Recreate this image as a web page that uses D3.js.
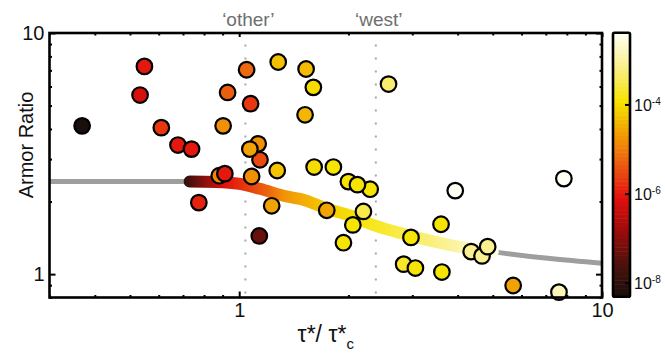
<!DOCTYPE html>
<html lang="en">
<head>
<meta charset="UTF-8">
<title>Armor Ratio</title>
<style>
* { margin: 0; padding: 0; box-sizing: border-box; }
body { background: #fff; width: 665px; height: 354px; overflow: hidden; font-family: "Liberation Sans", Arial, sans-serif; }
svg { display: block; }
.tick text { font-size: 20px; fill: #111; }
.lbl { fill: #111; }
.region { fill: #6e6e6e; font-size: 19px; }
</style>
</head>
<body>
<div id="chart"></div>
<script src="https://cdn.jsdelivr.net/npm/d3@7"></script>
<script>
// scatter data: tau*/tau*c, armor ratio, log10 of colour variable
var PT_X = [0.369, 0.548, 0.533, 0.610, 0.678, 0.739, 0.903, 0.929, 1.048, 1.075,
            1.281, 1.529, 1.601, 1.519, 1.141, 1.128, 1.070, 1.273, 0.881, 0.913,
            1.082, 0.774, 1.609, 1.818, 2.000, 2.296, 2.118, 1.229, 1.136, 1.743,
            2.200, 2.057, 1.938, 2.58, 2.975, 3.60, 2.84, 3.06, 3.62, 3.94,
            7.85, 4.36, 4.67, 4.84, 5.69, 7.61];
var PT_Y = [4.12, 7.27, 5.53, 4.05, 3.43, 3.30, 4.12, 5.67, 7.04, 5.09,
            7.58, 7.09, 5.95, 4.58, 2.98, 3.47, 3.30, 2.69, 2.56, 2.61,
            2.54, 1.98, 2.78, 2.78, 2.42, 2.25, 2.35, 1.92, 1.44, 1.84,
            1.82, 1.60, 1.35, 6.14, 1.42, 1.61, 1.10, 1.06, 1.02, 2.22,
            2.49, 1.24, 1.19, 1.30, 0.897, 0.842];
var PT_C = [-8.3, -6.0, -6.2, -5.7, -6.0, -6.0, -4.8, -5.3, -5.2, -5.7,
            -4.3, -4.35, -4.0, -4.4, -5.5, -4.8, -4.6, -4.25, -4.9, -6.0,
            -4.8, -5.9, -4.0, -3.9, -3.9, -3.9, -3.9, -4.6, -7.3, -4.6,
            -3.5, -3.9, -3.9, -3.3, -3.9, -3.9, -3.7, -3.9, -3.9, -2.38,
            -2.38, -3.1, -3.1, -3.1, -4.6, -2.8];

// fitted trend curve
var CURVE_X = [0.3, 0.73, 0.86, 1.0, 1.14, 1.35, 1.47, 1.78, 2.02, 2.37, 2.78, 3.82, 5.0, 7.2, 10];
var CURVE_Y = [2.42, 2.42, 2.41, 2.37, 2.26, 2.10, 2.05, 1.85, 1.75, 1.59, 1.48, 1.32, 1.24, 1.16, 1.11];
var BAND_RANGE = [0.73, 5.0];

var X_MAJOR = [1, 10];
var X_MINOR = [0.3, 0.4, 0.5, 0.6, 0.7, 0.8, 0.9, 2, 3, 4, 5, 6, 7, 8, 9];
var Y_MAJOR = [1, 10];
var Y_MINOR = [0.8, 0.9, 2, 3, 4, 5, 6, 7, 8, 9];
var C_TICKS = [-4, -6, -8];
var REF_LINES = [1.04, 2.38];
var REF_LABELS = ["\u2018other\u2019", "\u2018west\u2019"];

var W = 665, H = 354;
var L = 49.5, R = 602, T = 33, B = 297.5;

var svg = d3.select("#chart").append("svg").attr("width", W).attr("height", H);

var x = d3.scaleLog().domain([0.3, 10]).range([L, R]);
var y = d3.scaleLog().domain([0.8, 10]).range([B, T]);
var cbar = d3.scaleLinear().domain([-8.3, -2.38]).range([296.7, 32.7]);

// colormap, close to matlab "hot"
var cmap = d3.scaleLinear()
	.domain([0, 0.12, 0.25, 0.375, 0.5, 0.62, 0.74, 0.87, 1])
	.range(["#1a0f0c", "#4a120c", "#9a0c0a", "#e3100e", "#ec5a10", "#f2a004", "#f6e400", "#faef8a", "#fffff4"])
	.clamp(true);
function colorOf(c) { return cmap((c + 8.3) / 5.92); }

var defs = svg.append("defs");

// gradient along the coloured part of the trend curve
var grad = defs.append("linearGradient")
	.attr("id", "band")
	.attr("gradientUnits", "userSpaceOnUse")
	.attr("x1", x(BAND_RANGE[0]) - 6).attr("x2", x(BAND_RANGE[1]) + 6)
	.attr("y1", 0).attr("y2", 0);
var bandF = [0, 0.13, 0.27, 0.32, 0.46, 0.56, 0.86, 1];
var bandT = [0.05, 0.37, 0.52, 0.6, 0.7, 0.75, 0.9, 0.99];
bandF.forEach(function(f, i) {
	grad.append("stop").attr("offset", f).attr("stop-color", cmap(bandT[i]));
});

defs.append("clipPath").attr("id", "plotclip")
	.append("rect").attr("x", L).attr("y", T).attr("width", R - L).attr("height", B - T);

// dotted reference lines
svg.append("g").selectAll("line").data(REF_LINES).join("line")
	.attr("x1", function(d) { return x(d); })
	.attr("x2", function(d) { return x(d); })
	.attr("y1", B - 4).attr("y2", T + 4)
	.attr("stroke", "#a8a8a8")
	.attr("stroke-width", 2)
	.attr("stroke-dasharray", "2,11");

svg.append("g").selectAll("text").data(REF_LINES).join("text")
	.attr("class", "region")
	.attr("x", function(d) { return x(d) + 3; })
	.attr("y", 26)
	.attr("text-anchor", "middle")
	.text(function(d, i) { return REF_LABELS[i]; });

// trend curve
var curvePts = CURVE_X.map(function(v, i) { return [v, CURVE_Y[i]]; });
var line = d3.line()
	.x(function(d) { return x(d[0]); })
	.y(function(d) { return y(d[1]); })
	.curve(d3.curveMonotoneX);

var gc = svg.append("g").attr("clip-path", "url(#plotclip)");
gc.append("path")
	.attr("d", line(curvePts))
	.attr("fill", "none")
	.attr("stroke", "#9e9e9e")
	.attr("stroke-width", 5);

var bandPts = curvePts.filter(function(d) { return d[0] >= BAND_RANGE[0] && d[0] <= BAND_RANGE[1]; });
gc.append("path")
	.attr("d", line(bandPts))
	.attr("fill", "none")
	.attr("stroke", "url(#band)")
	.attr("stroke-width", 12)
	.attr("stroke-linecap", "round");

// scatter
var pts = PT_X.map(function(v, i) { return { x: v, y: PT_Y[i], c: PT_C[i] }; });
svg.append("g").selectAll("circle").data(pts).join("circle")
	.attr("cx", function(d) { return x(d.x); })
	.attr("cy", function(d) { return y(d.y); })
	.attr("r", 7.8)
	.attr("fill", function(d) { return colorOf(d.c); })
	.attr("stroke", "#000")
	.attr("stroke-width", 2.2);

// axes, ticks pointing inwards on all four sides
function addAxis(axis, tx, ty, labelled) {
	var g = svg.append("g").attr("transform", "translate(" + tx + "," + ty + ")").call(axis);
	g.select(".domain").remove();
	g.selectAll(".tick line").attr("stroke", "#000").attr("stroke-width", 2);
	if (!labelled) g.selectAll(".tick text").remove();
	return g;
}
var fmt = d3.format("d");
addAxis(d3.axisBottom(x).tickValues(X_MAJOR).tickSize(-6).tickPadding(5).tickFormat(fmt), 0, B, true);
addAxis(d3.axisBottom(x).tickValues(X_MINOR).tickSize(-2.5), 0, B, false);
addAxis(d3.axisTop(x).tickValues(X_MAJOR).tickSize(-4), 0, T, false);
addAxis(d3.axisTop(x).tickValues(X_MINOR).tickSize(-2.5), 0, T, false);
addAxis(d3.axisLeft(y).tickValues(Y_MAJOR).tickSize(-6).tickPadding(5).tickFormat(fmt), L, 0, true);
addAxis(d3.axisLeft(y).tickValues(Y_MINOR).tickSize(-2.5), L, 0, false);
addAxis(d3.axisRight(y).tickValues(Y_MAJOR).tickSize(-6), R, 0, false);
addAxis(d3.axisRight(y).tickValues(Y_MINOR).tickSize(-2.5), R, 0, false);

svg.append("rect")
	.attr("x", L).attr("y", T).attr("width", R - L).attr("height", B - T)
	.attr("fill", "none").attr("stroke", "#000").attr("stroke-width", 2.6);

// axis titles
svg.append("text").attr("class", "lbl")
	.attr("transform", "translate(33,145) rotate(-90)")
	.attr("text-anchor", "middle")
	.attr("font-size", 20)
	.text("Armor Ratio");

var xt = svg.append("text").attr("class", "lbl")
	.attr("x", (L + R) / 2).attr("y", 342)
	.attr("text-anchor", "middle")
	.attr("font-size", 23);
xt.append("tspan").text("\u03c4*/ \u03c4*");
xt.append("tspan").attr("font-size", 15).attr("dy", 7).text("c");

// colorbar, 64 discrete levels like the original
var CB_X = 613, CB_W = 17;
var levels = d3.range(64);
var cStep = 5.92 / 64;
svg.append("g").selectAll("rect").data(levels).join("rect")
	.attr("x", CB_X)
	.attr("y", function(i) { return cbar(-8.3 + (i + 1) * cStep); })
	.attr("width", CB_W)
	.attr("height", function(i) { return cbar(-8.3 + i * cStep) - cbar(-8.3 + (i + 1) * cStep) + 0.5; })
	.attr("fill", function(i) { return colorOf(-8.3 + (i + 0.5) * cStep); });

svg.append("rect")
	.attr("x", CB_X).attr("y", cbar(-2.38)).attr("width", CB_W).attr("height", cbar(-8.3) - cbar(-2.38))
	.attr("rx", 1.5)
	.attr("fill", "none").attr("stroke", "#000").attr("stroke-width", 2.6);

var ct = svg.append("g").selectAll("g").data(C_TICKS).join("g")
	.attr("transform", function(d) { return "translate(0," + cbar(d) + ")"; });
ct.append("line")
	.attr("x1", CB_X + CB_W - 5).attr("x2", CB_X + CB_W)
	.attr("stroke", "#000").attr("stroke-width", 2);
var ctText = ct.append("text").attr("class", "lbl")
	.attr("x", CB_X + CB_W + 4).attr("dy", "0.36em")
	.attr("font-size", 16);
ctText.append("tspan").text("10");
ctText.append("tspan").attr("font-size", 10).attr("dy", -6).text(function(d) { return d; });
</script>
</body>
</html>
